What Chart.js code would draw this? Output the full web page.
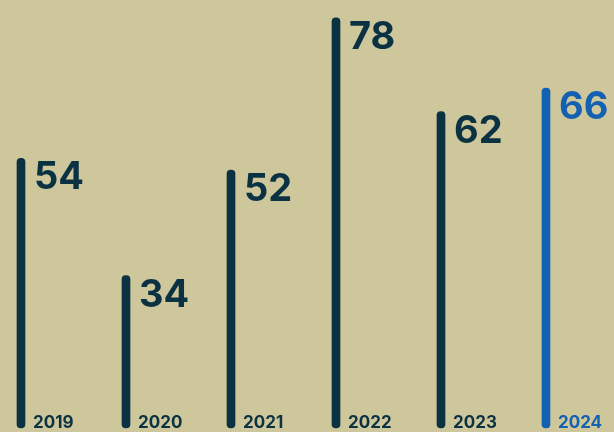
<!DOCTYPE html>
<html>
<head>
<meta charset="utf-8">
<script src="https://cdn.jsdelivr.net/npm/chart.js@4/dist/chart.umd.min.js"></script>
<style>
  html,body{margin:0;padding:0;background:#cec79b;}
  #wrap{width:614px;height:432px;position:relative;}
</style>
</head>
<body>
<div id="wrap"><canvas id="c" width="614" height="432"></canvas></div>
<script>
const years = ["2019","2020","2021","2022","2023","2024"];
const values = [54, 34, 52, 78, 62, 66];
const highlightYear = "2024";

const DARK = "#0b3242";
const BLUE = "#1461b1";
const colors = years.map(y => y === highlightYear ? BLUE : DARK);

const labelPlugin = {
  id: "labels",
  afterDatasetsDraw(chart) {
    const ctx = chart.ctx;
    const meta = chart.getDatasetMeta(0);
    ctx.save();
    ctx.textAlign = "left";
    ctx.textBaseline = "alphabetic";
    meta.data.forEach((bar, i) => {
      ctx.fillStyle = colors[i];
      ctx.font = "700 38px Inter";
      ctx.fillText(String(values[i]), bar.x + 13, bar.y + 31);
      ctx.font = "700 17px Inter";
      ctx.fillText(years[i], bar.x + 12, chart.chartArea.bottom);
    });
    ctx.restore();
  }
};

new Chart(document.getElementById("c"), {
  type: "bar",
  data: {
    labels: years,
    datasets: [{
      data: values,
      base: 8,
      backgroundColor: colors,
      barThickness: 8,
      borderRadius: 4,
      borderSkipped: false,
      clip: false
    }]
  },
  options: {
    responsive: false,
    animation: false,
    layout: { padding: { left: 21, right: 68, top: 6, bottom: 4 } },
    plugins: { legend: { display: false }, tooltip: { enabled: false } },
    scales: {
      x: { display: false, offset: false },
      y: { display: false, min: 8, max: 80 }
    }
  },
  plugins: [labelPlugin]
});
</script>
</body>
</html>
